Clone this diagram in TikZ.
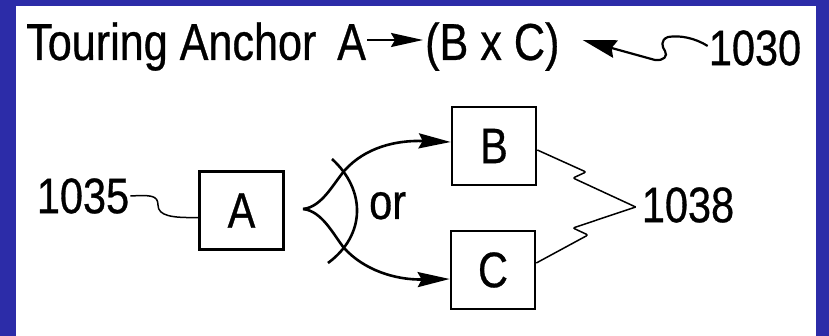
\documentclass[tikz,border=0pt]{standalone}
\usepackage{fontspec}
\setmainfont{Liberation Sans}[FakeStretch=0.83,FakeBold=0.6]
\usetikzlibrary{arrows.meta,calc}
\definecolor{bgblue}{RGB}{44,44,168}
\newcommand\bigfs{\fontsize{50}{58}\selectfont}
\newcommand\titlefs{\fontsize{52}{60}\selectfont}
\begin{document}
\begin{tikzpicture}[x=1pt,y=-1pt,
  box/.style={draw,line width=2.6pt,minimum width=84pt,minimum height=78pt,inner sep=0pt,font=\bigfs},
  lbl/.style={inner sep=0pt,font=\bigfs},
  ttl/.style={inner sep=0pt,font=\titlefs},
  thick line/.style={line width=2.6pt},
  leader/.style={line width=1.5pt},
  tipbig/.style={-{Stealth[length=32pt,width=15pt,inset=4pt]}}]
\useasboundingbox (0,0) rectangle (829,336);
\fill[bgblue] (0,0) rectangle (829,336);
\fill[white] (16,6) rectangle (816,336);

% title
\node[ttl,anchor=base west] (tTour) at (26,60) {Touring Anchor};
\node[ttl,anchor=base west] (tA) at (337,60) {A};
\node[ttl,anchor=base west] (tBC) at (425,60) {(B x C)};
\node[lbl] (t1030) at (755,48) {1030};
\draw[line width=2.2pt,-{Stealth[length=32pt,width=14pt,inset=4pt]}] ([xshift=1pt,yshift=20pt]tA.base east) -- ([xshift=-2pt,yshift=20pt]tBC.base west);
\draw[line width=2.2pt,-{Stealth[length=34pt,width=18pt,inset=4pt]}] ([xshift=-1pt,yshift=2pt]t1030.west)
  .. controls (695,38) and (680,35) .. (668,37)
  .. controls (660,40) and (662,47) .. (665,51)
  .. controls (668,56) and (664,61) .. (655,60)
  -- ([xshift=23pt,yshift=20pt]tBC.base east);

% boxes
\node[box] (A) at (241.5,210.5) {A};
\node[box] (B) at (494,146) {B};
\node[box] (C) at (493,270) {C};

% labels
\node[lbl] (t1035) at (83,196) {1035};
\node[lbl] (t1038) at (688,205) {1038};
\node[lbl,anchor=base west] (tor) at (369,219) {or};

% 1035 leader
\draw[leader] ([xshift=1pt]t1035.east) .. controls (150,195) and (158,195) .. (158,205)
  .. controls (158,216) and (172,218) .. ([yshift=-7pt]A.west);

% or-split
\coordinate (cusp) at (303,209);
\draw[thick line,tipbig] (cusp) .. controls (322,207) and (333,184) .. (345,170)
  .. controls (365,148) and (395,140) .. ([yshift=4pt]B.west);
\draw[thick line,tipbig] (cusp) .. controls (322,211) and (333,234) .. (344,248)
  .. controls (364,270) and (395,280) .. ([yshift=-9pt]C.west);
\draw[thick line] (332,159) .. controls (366,190) and (366,235) .. (328,263);

% 1038 leaders
\draw[leader,rounded corners=2pt] ([yshift=-4pt]B.east) -- (586,172) -- (573,178) -- ([xshift=-6pt,yshift=-2pt]t1038.west);
\draw[leader,rounded corners=2pt] ([yshift=7pt]C.east) -- (588,235) -- (573,228) -- ([xshift=-6pt,yshift=-2pt]t1038.west);
\end{tikzpicture}
\end{document}
